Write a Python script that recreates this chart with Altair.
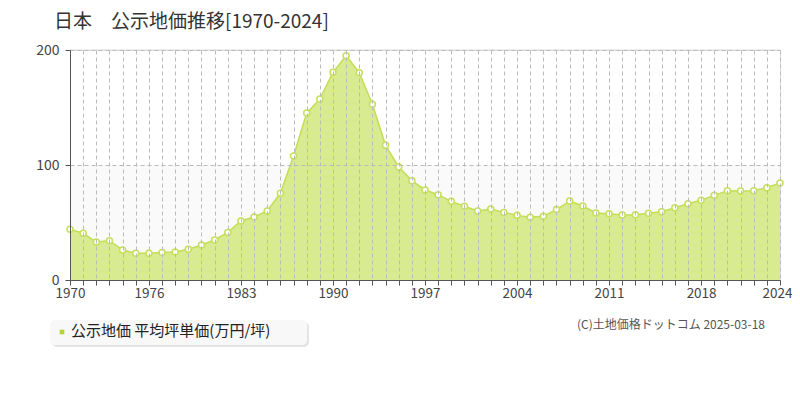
import altair as alt
import pandas as pd

years = list(range(1970, 2025))
values = [44.1, 40.6, 33.0, 34.2, 26.1, 23.2, 23.2, 24.0, 24.3, 26.7,
          30.4, 34.8, 41.4, 51.3, 54.8, 60.0, 75.4, 107.8, 145.2, 157.4,
          180.6, 195.0, 180.3, 152.8, 117.1, 98.3, 86.4, 78.3, 74.2, 68.4,
          64.1, 60.0, 61.7, 58.8, 56.2, 54.5, 55.4, 61.2, 68.7, 64.3,
          58.3, 57.7, 56.5, 56.8, 58.0, 59.4, 62.9, 66.4, 69.3, 73.6,
          77.7, 77.4, 77.7, 80.3, 84.3]
label_years = [1970, 1976, 1983, 1990, 1997, 2004, 2011, 2018, 2024]
y_ticks = [0, 100, 200]

title_text = "日本　公示地価推移[1970-2024]"
legend_text = "公示地価 平均坪単価(万円/坪)"
credit_text = "(C)土地価格ドットコム 2025-03-18"

FONT = "Noto Sans CJK JP"
W, H = 710, 230

df = pd.DataFrame({"year": years, "value": values})

xs = alt.Scale(domain=[1970, 2024], nice=False, zero=False)
ys = alt.Scale(domain=[0, 200], nice=False)

label_expr = "indexof([" + ",".join(str(y) for y in label_years) + "], datum.value) >= 0 ? format(datum.value, 'd') : ''"

x_axis = alt.Axis(values=years, labelExpr=label_expr, grid=True, gridDash=[4, 3],
                  gridColor="#bbbbbb", domainColor="#555555", tickColor="#555555",
                  tickSize=5, labelFont=FONT, labelFontSize=13.5, labelColor="#444444",
                  labelPadding=1, labelFlush=False, labelOverlap=False, title=None, zindex=1,
                  labelOffset=alt.ExprRef("datum.value == 2024 ? -3 : 0"))
y_axis = alt.Axis(values=y_ticks, grid=True, gridDash=[4, 3], gridColor="#bbbbbb",
                  domainColor="#555555", tickColor="#555555", tickSize=5,
                  labelFont=FONT, labelFontSize=14, labelColor="#444444",
                  labelPadding=6, title=None, zindex=1)

X = alt.X("year:Q", scale=xs, axis=x_axis)
Y = alt.Y("value:Q", scale=ys, axis=y_axis)

band = alt.Chart(pd.DataFrame({"value": [0], "value2": [100]})).mark_rect(color="#fafafa").encode(
    x=alt.value(0), x2=alt.value(W), y=Y, y2="value2:Q")

grid_layer = alt.Chart(df).mark_point(opacity=0).encode(x=X, y=Y)

top_rule = alt.Chart(pd.DataFrame({"value": [200]})).mark_rule(color="#dddddd", strokeWidth=1).encode(y=Y)

area = alt.Chart(df).mark_area(color="#d9eb91", opacity=1,
                               line={"color": "#c3dd55", "strokeWidth": 1.5}).encode(x=X, y=Y)

points = alt.Chart(df).mark_point(filled=True, fill="white", stroke="#c6df5c", strokeWidth=1.5,
                                  size=36, opacity=1, shape="circle").encode(x=X, y=Y)

dummy = pd.DataFrame({"t": [0]})

title = alt.Chart(dummy).mark_text(text=title_text, font=FONT, fontSize=19, color="#333333",
                                   align="left", baseline="middle").encode(
    x=alt.value(-16), y=alt.value(-28))

legend_shadow = alt.Chart(dummy).mark_rect(color="#e4e4e4", cornerRadius=5).encode(
    x=alt.value(-18), x2=alt.value(239), y=alt.value(272), y2=alt.value(297))
legend_box = alt.Chart(dummy).mark_rect(color="#f8f8f8", cornerRadius=5).encode(
    x=alt.value(-20), x2=alt.value(237), y=alt.value(270), y2=alt.value(295))
legend_sq = alt.Chart(dummy).mark_square(color="#b5d334", size=22, opacity=1).encode(
    x=alt.value(-8), y=alt.value(282))
legend_lbl = alt.Chart(dummy).mark_text(text=legend_text, font=FONT, fontSize=15, color="#222222",
                                        align="left", baseline="middle").encode(
    x=alt.value(1), y=alt.value(281))
credit = alt.Chart(dummy).mark_text(text=credit_text, font=FONT, fontSize=12, color="#555555",
                                    align="right", baseline="middle").encode(
    x=alt.value(695), y=alt.value(275))

chart = alt.layer(band, grid_layer, top_rule, area, points, title,
                  legend_shadow, legend_box, legend_sq, legend_lbl, credit).properties(
    width=W, height=H,
    autosize=alt.AutoSizeParams(type="none"),
    padding={"left": 62, "top": 42, "right": 12, "bottom": 100},
).configure_view(stroke="#dddddd", strokeWidth=1).configure(background="white")

chart.save("out.html", embed_options={"renderer": "svg", "actions": False})
